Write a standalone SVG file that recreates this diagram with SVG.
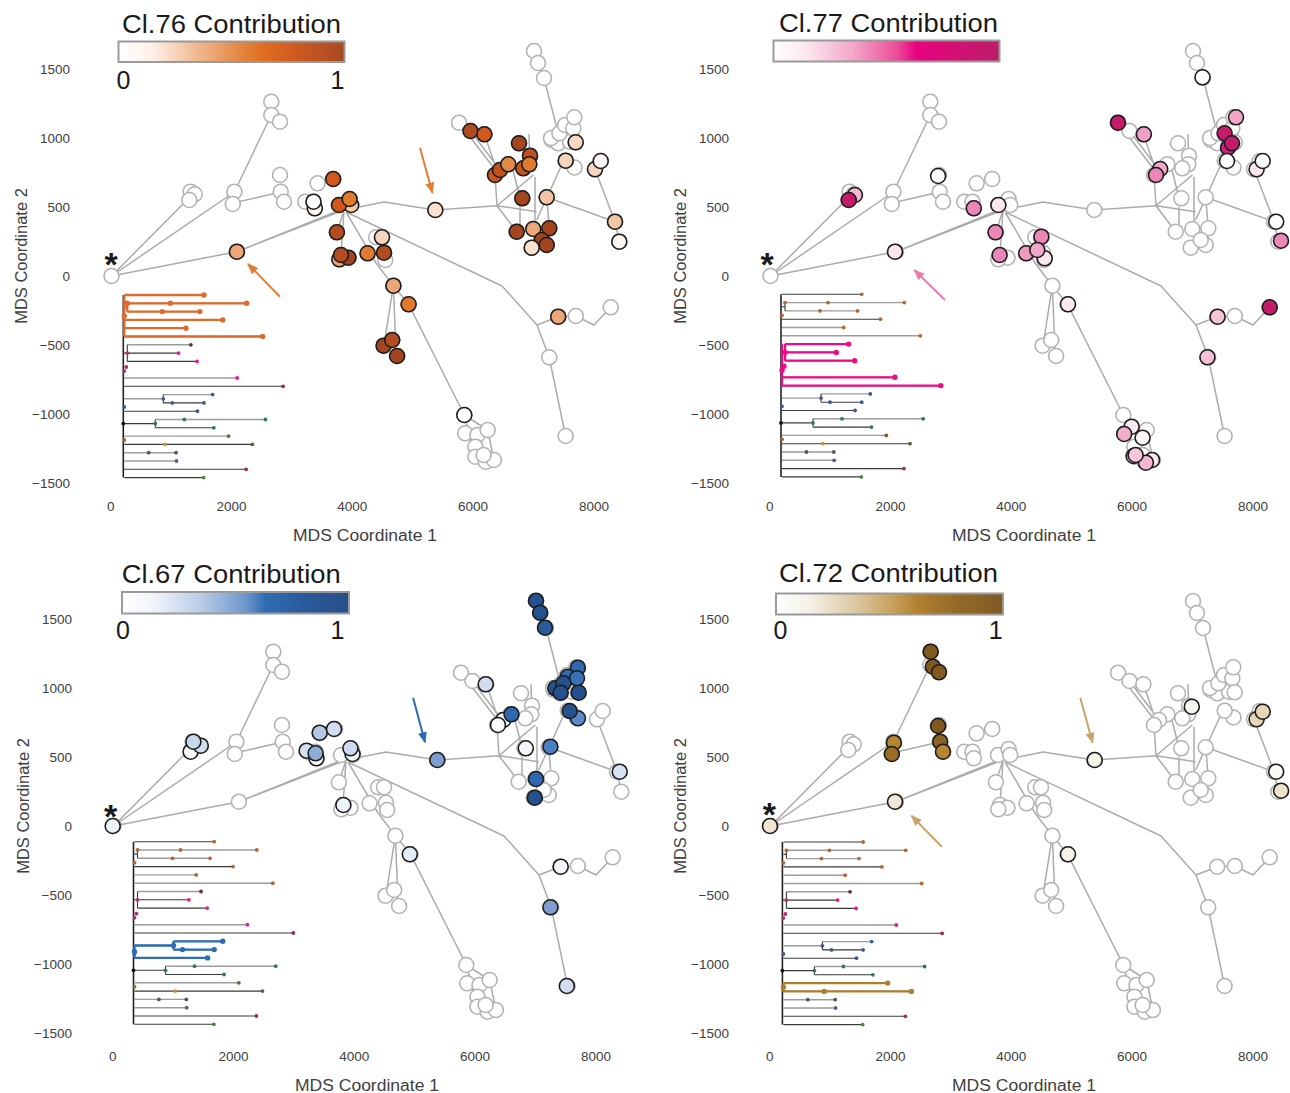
<svg xmlns="http://www.w3.org/2000/svg" xmlns:xlink="http://www.w3.org/1999/xlink" width="1290" height="1093" viewBox="0 0 1290 1093">
<style>
text{font-family:"Liberation Sans",Arial,Helvetica,sans-serif}
.tk{font-size:13.5px;fill:#404040}
.ax{font-size:16px;fill:#404040}
.ttl{font-size:25px;fill:#1a1a1a}
.lim{font-size:25px;fill:#1a1a1a;text-anchor:middle}
.star{font-size:34px;font-weight:bold;fill:#1a1a1a;text-anchor:middle}
.e{fill:none;stroke:#ababab;stroke-width:1.5;stroke-linejoin:round}
.n{fill:#fff;stroke:#b3b3b3;stroke-width:1.6}
.c circle{stroke:#1c1c1c;stroke-width:1.6}
.bar{stroke:#9a9a9a;stroke-width:2}
.td{fill:none;stroke:#3a3a3a;stroke-width:1.1}
.tg{fill:none;stroke:#9c9c9c;stroke-width:1.4}
.hl{fill:none;stroke-width:2.3}
.arr{fill:none;stroke-width:2}
</style>
<defs>
<linearGradient id="g76" x1="0" x2="1" y1="0" y2="0"><stop offset="0" stop-color="#ffffff"/><stop offset="0.15" stop-color="#fdf0e8"/><stop offset="0.35" stop-color="#f0b88e"/><stop offset="0.55" stop-color="#e2843e"/><stop offset="0.63" stop-color="#e07020"/><stop offset="0.78" stop-color="#cf5a22"/><stop offset="1" stop-color="#a64a22"/></linearGradient>
<linearGradient id="g77" x1="0" x2="1" y1="0" y2="0"><stop offset="0" stop-color="#ffffff"/><stop offset="0.15" stop-color="#fbe6ef"/><stop offset="0.35" stop-color="#f2a8c8"/><stop offset="0.55" stop-color="#ec4c98"/><stop offset="0.63" stop-color="#e8037f"/><stop offset="0.8" stop-color="#d40f74"/><stop offset="1" stop-color="#bb1d68"/></linearGradient>
<linearGradient id="g67" x1="0" x2="1" y1="0" y2="0"><stop offset="0" stop-color="#ffffff"/><stop offset="0.15" stop-color="#eef2f9"/><stop offset="0.35" stop-color="#b8cbe6"/><stop offset="0.55" stop-color="#6b95cc"/><stop offset="0.63" stop-color="#2f6db3"/><stop offset="0.8" stop-color="#2a5a9c"/><stop offset="1" stop-color="#274f88"/></linearGradient>
<linearGradient id="g72" x1="0" x2="1" y1="0" y2="0"><stop offset="0" stop-color="#ffffff"/><stop offset="0.15" stop-color="#f5f0e6"/><stop offset="0.35" stop-color="#dcc9a2"/><stop offset="0.55" stop-color="#c1974c"/><stop offset="0.63" stop-color="#b07f2e"/><stop offset="0.8" stop-color="#946a28"/><stop offset="1" stop-color="#7d5a24"/></linearGradient>
<marker id="mo" markerUnits="userSpaceOnUse" markerWidth="11" markerHeight="9" refX="10" refY="4.5" orient="auto"><path d="M0,0 L11,4.5 L0,9 z" fill="#e27b35"/></marker>
<marker id="mp" markerUnits="userSpaceOnUse" markerWidth="11" markerHeight="9" refX="10" refY="4.5" orient="auto"><path d="M0,0 L11,4.5 L0,9 z" fill="#f07aad"/></marker>
<marker id="mb" markerUnits="userSpaceOnUse" markerWidth="11" markerHeight="9" refX="10" refY="4.5" orient="auto"><path d="M0,0 L11,4.5 L0,9 z" fill="#2b6cb5"/></marker>
<marker id="mt" markerUnits="userSpaceOnUse" markerWidth="11" markerHeight="9" refX="10" refY="4.5" orient="auto"><path d="M0,0 L11,4.5 L0,9 z" fill="#c9a46b"/></marker>

<g id="edges">
<path class="e" d="M111.5,276 L190,197 M111.5,276 L234.4,192 L271.3,115 M233,203 L280.7,192 M111.5,276 L236.9,251.7 L337,212 M236.9,251.7 L344,210 M236.9,251.7 L350,206 M344,210 L384,202 L435.3,210 L497,205.7 M344,210 L336.9,232.3 M344,210 L341,255 M346,212 L376,263 L393.4,285.7 M346,212 L502,286 L537,325 L549.2,357.3 L565.6,436 M537,325 L558.2,316.7 L575.8,316 L594,325 L610.7,307.3 M393.4,285.7 L384,345 M393.4,285.7 L396,352 M393.4,285.7 L408.6,304.3 L464.3,415 M464.3,415 L475.4,456.7 L485.7,461.7 M464.3,415 L487.7,430 L493.9,460 M497,205.7 L495,175 M459,122.7 L497,172 M470.5,131 L500,170 M484.4,134.3 L495,165 M497,205.7 L533.3,175 M497,205.7 L536.7,211.7 M497,205.7 L516.7,231.7 M529,134.3 L530,172 M513,170 L520,198 M535,176.7 L535,228 M520,206.7 L520,228 M536.7,220 L561.7,165 M546.7,197.3 L615,221.7 L595,169.3 M534,51 L538,63 L544,78 L557.4,130 M549.3,228.3 L546.7,197.3 M615,221.7 L619.3,241.7"/>
</g>

<g id="basenodes">
<circle class="n" cx="111.5" cy="276" r="7.5"/>
<circle class="n" cx="190.6" cy="191.7" r="7.5"/><circle class="n" cx="194.7" cy="194.3" r="7.5"/><circle class="n" cx="189.3" cy="200" r="7.5"/>
<circle class="n" cx="234.4" cy="191.7" r="7.5"/><circle class="n" cx="232.8" cy="204" r="7.5"/>
<circle class="n" cx="271.3" cy="101.7" r="7.5"/><circle class="n" cx="271.3" cy="115" r="7.5"/><circle class="n" cx="280" cy="121.7" r="7.5"/>
<circle class="n" cx="280" cy="175" r="7.5"/><circle class="n" cx="280.7" cy="191.7" r="7.5"/><circle class="n" cx="284" cy="201.7" r="7.5"/>
<circle class="n" cx="236.9" cy="251.7" r="7.5"/>
<circle class="n" cx="305.3" cy="201.7" r="7.5"/><circle class="n" cx="313.5" cy="201.7" r="7.5"/><circle class="n" cx="314.8" cy="208.3" r="7.5"/><circle class="n" cx="317.6" cy="183.3" r="7.5"/><circle class="n" cx="333.2" cy="179" r="7.5"/>
<circle class="n" cx="339" cy="205" r="7.5"/><circle class="n" cx="349.6" cy="199" r="7.5"/><circle class="n" cx="351.2" cy="205" r="7.5"/>
<circle class="n" cx="336.9" cy="232.3" r="7.5"/>
<circle class="n" cx="341" cy="255" r="7.5"/><circle class="n" cx="348.4" cy="257.7" r="7.5"/><circle class="n" cx="339.3" cy="259.3" r="7.5"/>
<circle class="n" cx="367.6" cy="253.3" r="7.5"/><circle class="n" cx="384" cy="252.7" r="7.5"/><circle class="n" cx="376.2" cy="237.3" r="7.5"/><circle class="n" cx="382" cy="237.3" r="7.5"/><circle class="n" cx="385.2" cy="260" r="7.5"/>
<circle class="n" cx="393.4" cy="285.7" r="7.5"/><circle class="n" cx="408.6" cy="304.3" r="7.5"/>
<circle class="n" cx="383.6" cy="345.7" r="7.5"/><circle class="n" cx="392.2" cy="340" r="7.5"/><circle class="n" cx="397.1" cy="356" r="7.5"/>
<circle class="n" cx="435.3" cy="210" r="7.5"/>
<circle class="n" cx="464.3" cy="415" r="7.5"/><circle class="n" cx="465.2" cy="433.3" r="7.5"/><circle class="n" cx="477.5" cy="435" r="7.5"/><circle class="n" cx="487.7" cy="430" r="7.5"/><circle class="n" cx="475.4" cy="446.7" r="7.5"/><circle class="n" cx="475.4" cy="456.7" r="7.5"/><circle class="n" cx="485.7" cy="461.7" r="7.5"/><circle class="n" cx="493.9" cy="460" r="7.5"/><circle class="n" cx="483.6" cy="455" r="7.5"/>
<circle class="n" cx="459" cy="122.7" r="7.5"/><circle class="n" cx="470.5" cy="131" r="7.5"/><circle class="n" cx="484.4" cy="134.3" r="7.5"/>
<circle class="n" cx="519" cy="143.3" r="7.5"/><circle class="n" cx="530" cy="155.7" r="7.5"/><circle class="n" cx="529.3" cy="164.3" r="7.5"/><circle class="n" cx="523.3" cy="168.3" r="7.5"/>
<circle class="n" cx="508.3" cy="164.3" r="7.5"/><circle class="n" cx="500" cy="170" r="7.5"/><circle class="n" cx="495" cy="175" r="7.5"/>
<circle class="n" cx="522.3" cy="198.3" r="7.5"/><circle class="n" cx="546.7" cy="197.3" r="7.5"/>
<circle class="n" cx="516.7" cy="231.7" r="7.5"/><circle class="n" cx="533.3" cy="229" r="7.5"/><circle class="n" cx="549.3" cy="228.3" r="7.5"/><circle class="n" cx="531.7" cy="247.7" r="7.5"/><circle class="n" cx="546.7" cy="245" r="7.5"/><circle class="n" cx="541.7" cy="240" r="7.5"/>
<circle class="n" cx="534" cy="51" r="7.5"/><circle class="n" cx="538" cy="63" r="7.5"/><circle class="n" cx="544" cy="78" r="7.5"/>
<circle class="n" cx="551.7" cy="140" r="7.5"/><circle class="n" cx="558.3" cy="143.3" r="7.5"/><circle class="n" cx="570" cy="141.7" r="7.5"/><circle class="n" cx="551" cy="138" r="7.5"/><circle class="n" cx="559.4" cy="133.3" r="7.5"/><circle class="n" cx="565" cy="125" r="7.5"/><circle class="n" cx="573.3" cy="128.3" r="7.5"/><circle class="n" cx="574.3" cy="117.3" r="7.5"/><circle class="n" cx="574.5" cy="167.5" r="7.5"/><circle class="n" cx="565.7" cy="160.7" r="7.5"/><circle class="n" cx="575.7" cy="142.3" r="7.5"/>
<circle class="n" cx="595" cy="169.3" r="7.5"/><circle class="n" cx="600.7" cy="161" r="7.5"/>
<circle class="n" cx="615" cy="221.7" r="7.5"/><circle class="n" cx="619.3" cy="241.7" r="7.5"/>
<circle class="n" cx="558.2" cy="316.7" r="7.5"/><circle class="n" cx="575.8" cy="316" r="7.5"/><circle class="n" cx="610.7" cy="307.3" r="7.5"/><circle class="n" cx="549.2" cy="357.3" r="7.5"/><circle class="n" cx="565.6" cy="436" r="7.5"/>
</g>

<g id="axes">
<g class="tk" text-anchor="end">
<text x="70" y="74.3">1500</text><text x="70" y="143.2">1000</text><text x="70" y="212.2">500</text><text x="70" y="281.1">0</text><text x="70" y="350">−500</text><text x="70" y="419">−1000</text><text x="70" y="487.9">−1500</text>
</g>
<g class="tk" text-anchor="middle">
<text x="110.7" y="511">0</text><text x="231.5" y="511">2000</text><text x="352.3" y="511">4000</text><text x="473.1" y="511">6000</text><text x="593.9" y="511">8000</text>
</g>
<text class="ax" x="365" y="540.5" text-anchor="middle" textLength="144" lengthAdjust="spacingAndGlyphs">MDS Coordinate 1</text>
<text class="ax" transform="translate(26.5,256) rotate(-90)" text-anchor="middle" style="font-size:16.5px">MDS Coordinate 2</text>
</g>

<g id="tree">
<path class="td" d="M0,0V182.6" style="stroke:#222;stroke-width:1.6"/>
<path class="tg" d="M4,8.3H123.3 M4,16.6H76.6 M1,33.2H62.7 M1,41.5H139.3 M4,49.8H67.6 M1,83H113.9 M40,99.6H89.3 M1,103.8H40 M32,124.5H142.2 M1,141.1H105.3 M1,157.7H52.8 M1,166H53.2 M1,72H3"/>
<path class="td" d="M1,0H80.7 M1,24.9H99.5 M4,58.1H55.3 M4,66.4H73.7 M1,91.3H159.8 M40,107.9H80.7 M1,116.2H74.1 M0,128.6H32 M32,132.8H90.5 M1,149.4H129 M1,174.3H122.9 M1,182.6H80.3 M4,49.8V66.4 M0,58.1H4 M40,99.6V107.9 M32,124.5V132.8 M4,8.3V16.6 M1,12.4H4"/>
<g>
<circle cx="80.7" cy="0" r="1.9" fill="#b8642e"/><circle cx="123.3" cy="8.3" r="1.9" fill="#b8642e"/><circle cx="47" cy="8.3" r="1.9" fill="#b8642e"/><circle cx="4" cy="8.3" r="1.9" fill="#b8642e"/><circle cx="76.6" cy="16.6" r="1.9" fill="#b8642e"/><circle cx="39" cy="16.6" r="1.9" fill="#b8642e"/><circle cx="99.5" cy="24.9" r="1.9" fill="#b8642e"/><circle cx="62.7" cy="33.2" r="1.9" fill="#b8642e"/><circle cx="139.3" cy="41.5" r="1.9" fill="#b8642e"/><circle cx="1" cy="21" r="1.9" fill="#b8642e"/>
<circle cx="67.6" cy="49.8" r="1.9" fill="#6a2a4a"/><circle cx="4" cy="58.1" r="1.9" fill="#b0306a"/><circle cx="55.3" cy="58.1" r="1.9" fill="#f0148c"/><circle cx="73.7" cy="66.4" r="1.9" fill="#f0148c"/><circle cx="3" cy="72" r="1.9" fill="#b0306a"/><circle cx="1" cy="76" r="1.9" fill="#b0306a"/><circle cx="113.9" cy="83" r="1.9" fill="#f0148c"/><circle cx="159.8" cy="91.3" r="1.9" fill="#a02060"/>
<circle cx="89.3" cy="99.6" r="1.9" fill="#3c5c8c"/><circle cx="80.7" cy="107.9" r="1.9" fill="#3c5c8c"/><circle cx="49" cy="107.9" r="1.9" fill="#3c5c8c"/><circle cx="40" cy="103.8" r="1.9" fill="#3c5c8c"/><circle cx="1" cy="112" r="1.9" fill="#3c5c8c"/><circle cx="74.1" cy="116.2" r="1.9" fill="#3c5c8c"/>
<circle cx="142.2" cy="124.5" r="1.9" fill="#2d7a5c"/><circle cx="61" cy="124.5" r="1.9" fill="#2d7a5c"/><circle cx="32" cy="128.6" r="1.9" fill="#2d7a5c"/><circle cx="0" cy="128.6" r="1.9" fill="#111"/><circle cx="90.5" cy="132.8" r="1.9" fill="#2d7a5c"/>
<circle cx="105.3" cy="141.1" r="1.9" fill="#7a5c34"/><circle cx="1" cy="145" r="1.9" fill="#8a6a3a"/><circle cx="129" cy="149.4" r="1.9" fill="#6b5a3a"/><circle cx="41.8" cy="149.4" r="1.9" fill="#c8922c"/>
<circle cx="52.8" cy="157.7" r="1.9" fill="#555"/><circle cx="25.4" cy="157.7" r="1.9" fill="#555"/><circle cx="53.2" cy="166" r="1.9" fill="#5a5a8c"/><circle cx="122.9" cy="174.3" r="1.9" fill="#a02a60"/><circle cx="80.3" cy="182.6" r="1.9" fill="#4a8a3a"/>
</g>
</g>
</defs>

<rect width="1290" height="1093" fill="#ffffff"/>

<!-- Panel Cl.76 -->
<g id="panel-cl76">
<g id="cl76-legend">
<text class="ttl" x="122" y="33.3" textLength="219" lengthAdjust="spacingAndGlyphs">Cl.76 Contribution</text>
<rect class="bar" x="118.5" y="41.5" width="226" height="20.5" fill="url(#g76)"/>
<text class="lim" x="123.5" y="89.3">0</text><text class="lim" x="337.5" y="89.3">1</text>
</g>
<use href="#axes"/>
<g id="cl76-graph">
<g id="cl76-connectors"><use href="#edges"/></g>
<use href="#basenodes"/>
<g id="cl76-nodes" class="c">
<circle cx="314.8" cy="208.3" r="7.5" fill="#fdf6f1"/><circle cx="313.5" cy="201.7" r="7.5" fill="#ffffff"/>
<circle cx="333.2" cy="179" r="7.5" fill="#d2581e"/>
<circle cx="351.2" cy="205" r="7.5" fill="#f5cba9"/><circle cx="339" cy="205" r="7.5" fill="#d2581e"/><circle cx="349.6" cy="199" r="7.5" fill="#e07a2e"/>
<circle cx="336.9" cy="232.3" r="7.5" fill="#b24c22"/>
<circle cx="339.3" cy="259.3" r="7.5" fill="#eda678"/><circle cx="348.4" cy="257.7" r="7.5" fill="#a5451f"/><circle cx="341" cy="255" r="7.5" fill="#b24c22"/>
<circle cx="382" cy="237.3" r="7.5" fill="#f5d5bd"/><circle cx="367.6" cy="253.3" r="7.5" fill="#e07a2e"/><circle cx="384" cy="252.7" r="7.5" fill="#b24c22"/>
<circle cx="393.4" cy="285.7" r="7.5" fill="#eda678"/>
<circle cx="408.6" cy="304.3" r="7.5" fill="#e07a2e"/>
<circle cx="383.6" cy="345.7" r="7.5" fill="#a5451f"/><circle cx="397.1" cy="356" r="7.5" fill="#a5451f"/><circle cx="392.2" cy="340" r="7.5" fill="#b24c22"/>
<circle cx="236.9" cy="251.7" r="7.5" fill="#eda678"/>
<circle cx="435.3" cy="210" r="7.5" fill="#fbe0cf"/>
<circle cx="464.3" cy="415" r="7.5" fill="#ffffff"/>
<circle cx="470.5" cy="131" r="7.5" fill="#b24c22"/><circle cx="484.4" cy="134.3" r="7.5" fill="#d2581e"/>
<circle cx="519" cy="143.3" r="7.5" fill="#a5451f"/><circle cx="530" cy="155.7" r="7.5" fill="#c0501e"/><circle cx="523.3" cy="168.3" r="7.5" fill="#c8541e"/><circle cx="529.3" cy="164.3" r="7.5" fill="#e07a2e"/>
<circle cx="495" cy="175" r="7.5" fill="#c8541e"/><circle cx="500" cy="170" r="7.5" fill="#c0501e"/><circle cx="508.3" cy="164.3" r="7.5" fill="#e08a45"/>
<circle cx="522.3" cy="198.3" r="7.5" fill="#a5451f"/><circle cx="546.7" cy="197.3" r="7.5" fill="#f2c6a4"/>
<circle cx="516.7" cy="231.7" r="7.5" fill="#a5451f"/><circle cx="549.3" cy="228.3" r="7.5" fill="#a5451f"/><circle cx="533.3" cy="229" r="7.5" fill="#eaa77a"/><circle cx="541.7" cy="240" r="7.5" fill="#a5451f"/><circle cx="546.7" cy="245" r="7.5" fill="#a5451f"/><circle cx="531.7" cy="247.7" r="7.5" fill="#f9e0d0"/>
<circle cx="575.7" cy="142.3" r="7.5" fill="#f6d8c4"/><circle cx="565.7" cy="160.7" r="7.5" fill="#f4d4bd"/>
<circle cx="595" cy="169.3" r="7.5" fill="#f6d6c0"/><circle cx="600.7" cy="161" r="7.5" fill="#fdf8f5"/>
<circle cx="615" cy="221.7" r="7.5" fill="#f2c6a4"/><circle cx="619.3" cy="241.7" r="7.5" fill="#fdf6f2"/>
<circle cx="558.2" cy="316.7" r="7.5" fill="#eda678"/>
</g>
</g>
<text class="star" x="111" y="275.5">*</text>
<g id="cl76-tree" transform="translate(123.3,295)">
<use href="#tree"/>
<g stroke="#e06a2a" fill="#e06a2a">
<path class="hl" d="M1,0V41.5 M1,0H80.7 M4,8.3H123.3 M4,8.3V16.6 M4,16.6H76.6 M1,24.9H99.5 M1,33.2H62.7 M1,41.5H139.3 M1,12.4H4"/>
<g stroke="none"><circle cx="80.7" cy="0" r="2.7"/><circle cx="4" cy="8.3" r="2.7"/><circle cx="47" cy="8.3" r="2.7"/><circle cx="123.3" cy="8.3" r="2.7"/><circle cx="39" cy="16.6" r="2.7"/><circle cx="76.6" cy="16.6" r="2.7"/><circle cx="99.5" cy="24.9" r="2.7"/><circle cx="62.7" cy="33.2" r="2.7"/><circle cx="139.3" cy="41.5" r="2.7"/><circle cx="1" cy="21" r="2.7"/></g>
</g>
</g>
<g id="cl76-arrows">
<path class="arr" stroke="#e27b35" marker-end="url(#mo)" d="M420,147.7 L432.4,192.7"/>
<path class="arr" stroke="#e27b35" marker-end="url(#mo)" d="M280,296.7 L248,264"/>
</g>
</g>

<!-- Panel Cl.77 -->
<g id="panel-cl77">
<g id="cl77-legend">
<text class="ttl" x="779" y="31.7" textLength="219" lengthAdjust="spacingAndGlyphs">Cl.77 Contribution</text>
<rect class="bar" x="773.5" y="40.5" width="226" height="21" fill="url(#g77)"/>
</g>
<use href="#axes" transform="translate(659,0)"/>
<g id="cl77-graph" transform="translate(659,0)">
<g id="cl77-connectors"><use href="#edges"/></g>
<use href="#basenodes"/>
<g id="cl77-nodes" class="c">
<circle cx="195.9" cy="195" r="7.5" fill="#f5b8d0"/><circle cx="189.8" cy="200" r="7.5" fill="#c41b6b"/>
<circle cx="279.1" cy="176" r="7.5" fill="#ffffff"/>
<circle cx="236" cy="251.7" r="7.5" fill="#fbe4ee"/>
<circle cx="314.8" cy="208.3" r="7.5" fill="#eb86b6"/>
<circle cx="339.4" cy="205" r="7.5" fill="#fce6ef"/>
<circle cx="336.5" cy="232.3" r="7.5" fill="#eb86b6"/>
<circle cx="340.6" cy="255" r="7.5" fill="#eb86b6"/>
<circle cx="382.4" cy="236.7" r="7.5" fill="#eb86b6"/>
<circle cx="385.7" cy="258.3" r="7.5" fill="#fae8f0"/><circle cx="367.2" cy="253.3" r="7.5" fill="#f09ac0"/><circle cx="378.3" cy="250" r="7.5" fill="#f2a8c8"/>
<circle cx="409" cy="304.3" r="7.5" fill="#fbe8f0"/>
<circle cx="459" cy="122.7" r="7.5" fill="#c41b6b"/><circle cx="484.9" cy="134.3" r="7.5" fill="#f0a0c4"/>
<circle cx="501.2" cy="169" r="7.5" fill="#f0a8c8"/><circle cx="497" cy="175" r="7.5" fill="#eb86b6"/>
<circle cx="543.5" cy="77.3" r="7.5" fill="#ffffff"/>
<circle cx="577" cy="117.3" r="7.5" fill="#f2a6c8"/>
<circle cx="565.6" cy="133.3" r="7.5" fill="#c41b6b"/><circle cx="569" cy="147.7" r="7.5" fill="#d0207a"/><circle cx="573" cy="143.3" r="7.5" fill="#c41b6b"/>
<circle cx="568" cy="161" r="7.5" fill="#ffffff"/>
<circle cx="597.6" cy="169.3" r="7.5" fill="#fce6ef"/><circle cx="603.7" cy="161" r="7.5" fill="#ffffff"/>
<circle cx="617.2" cy="221.7" r="7.5" fill="#ffffff"/><circle cx="622" cy="240.7" r="7.5" fill="#eb86b6"/>
<circle cx="558.6" cy="316.7" r="7.5" fill="#f6c4d8"/><circle cx="548.4" cy="357.3" r="7.5" fill="#f5c0d6"/><circle cx="610.7" cy="307.3" r="7.5" fill="#c41b6b"/>
<circle cx="472.6" cy="426.7" r="7.5" fill="#fbeaf1"/><circle cx="465.2" cy="434" r="7.5" fill="#f0b0cc"/><circle cx="483.6" cy="437.7" r="7.5" fill="#fbf4f7"/><circle cx="493" cy="460" r="7.5" fill="#fbeaf1"/><circle cx="486.9" cy="462.7" r="7.5" fill="#f2b6d0"/><circle cx="474.6" cy="456" r="7.5" fill="#f2bcd2"/><circle cx="476.6" cy="455" r="7.5" fill="#f5c6da"/>
</g>
</g>
<text class="star" x="767" y="275.5">*</text>
<g id="cl77-tree" transform="translate(781,294.3)">
<use href="#tree"/>
<g stroke="#ee0a84" fill="#ee0a84">
<path class="hl" d="M1,49.8V91.3 M4,49.8V66.4 M1,58.1H4 M4,49.8H67.6 M4,58.1H55.3 M4,66.4H73.7 M1,83H113.9 M1,91.3H159.8 M1,72H3"/>
<g stroke="none"><circle cx="67.6" cy="49.8" r="2.7"/><circle cx="4" cy="58.1" r="2.7"/><circle cx="55.3" cy="58.1" r="2.7"/><circle cx="73.7" cy="66.4" r="2.7"/><circle cx="3" cy="72" r="2.7"/><circle cx="1" cy="76" r="2.7"/><circle cx="113.9" cy="83" r="2.7"/><circle cx="159.8" cy="91.3" r="2.7"/></g>
</g>
</g>
<g id="cl77-arrows">
<path class="arr" stroke="#f07aad" marker-end="url(#mp)" d="M945,300 L914.3,270"/>
</g>
</g>

<!-- Panel Cl.67 -->
<g id="panel-cl67">
<g id="cl67-legend">
<text class="ttl" x="121.7" y="583.3" textLength="219" lengthAdjust="spacingAndGlyphs">Cl.67 Contribution</text>
<rect class="bar" x="122" y="592" width="227" height="21.5" fill="url(#g67)"/>
<text class="lim" x="123" y="639.3">0</text><text class="lim" x="337.5" y="639.3">1</text>
</g>
<use href="#axes" transform="translate(2,550)"/>
<g id="cl67-graph" transform="translate(2,550)">
<g id="cl67-connectors"><use href="#edges"/></g>
<use href="#basenodes"/>
<g id="cl67-nodes" class="c">
<circle cx="110.7" cy="276" r="7.5" fill="#eef3fa"/>
<circle cx="188.6" cy="201.7" r="7.5" fill="#f8fafd"/><circle cx="198.8" cy="195.7" r="7.5" fill="#d2def0"/><circle cx="191.4" cy="191.7" r="7.5" fill="#c8d8ec"/>
<circle cx="304.6" cy="200.7" r="7.5" fill="#d4e0f0"/><circle cx="317.7" cy="182.7" r="7.5" fill="#b4c8e6"/><circle cx="332" cy="179" r="7.5" fill="#d2def0"/><circle cx="314.4" cy="208.3" r="7.5" fill="#ffffff"/><circle cx="313.6" cy="203.3" r="7.5" fill="#8eaed8"/>
<circle cx="350.5" cy="204" r="7.5" fill="#ffffff"/><circle cx="348.4" cy="198.3" r="7.5" fill="#cddcf0"/>
<circle cx="341.4" cy="255" r="7.5" fill="#eef3fa"/>
<circle cx="435.3" cy="210" r="7.5" fill="#7e9ed0"/>
<circle cx="483.7" cy="134.3" r="7.5" fill="#d2def0"/>
<circle cx="501.3" cy="170" r="7.5" fill="#ffffff"/><circle cx="509.5" cy="164.3" r="7.5" fill="#2f68b0"/><circle cx="496" cy="175" r="7.5" fill="#f8fafd"/>
<circle cx="523.8" cy="198.3" r="7.5" fill="#f4f7fb"/><circle cx="548.4" cy="196.7" r="7.5" fill="#4a7ec2"/>
<circle cx="534" cy="229" r="7.5" fill="#2f68b0"/><circle cx="532.8" cy="247.7" r="7.5" fill="#25518e"/>
<circle cx="534" cy="50.7" r="7.5" fill="#25518e"/><circle cx="538.2" cy="62.7" r="7.5" fill="#25518e"/><circle cx="543" cy="77.7" r="7.5" fill="#2a5a98"/>
<circle cx="575.9" cy="117.7" r="7.5" fill="#2f68b0"/><circle cx="565.7" cy="126.7" r="7.5" fill="#2f68b0"/><circle cx="575" cy="128.3" r="7.5" fill="#3a72b8"/><circle cx="553.3" cy="138.3" r="7.5" fill="#25518e"/><circle cx="561.5" cy="133.3" r="7.5" fill="#25518e"/><circle cx="558.7" cy="142.7" r="7.5" fill="#25518e"/><circle cx="576.7" cy="142.7" r="7.5" fill="#25518e"/>
<circle cx="575.9" cy="168.3" r="7.5" fill="#5a88c8"/><circle cx="567.7" cy="161" r="7.5" fill="#25518e"/>
<circle cx="617.7" cy="221.7" r="7.5" fill="#d8e3f2"/>
<circle cx="407.8" cy="304.3" r="7.5" fill="#e4ecf6"/>
<circle cx="558.7" cy="316.7" r="7.5" fill="#f2f6fb"/><circle cx="548.4" cy="357.3" r="7.5" fill="#7e9ed0"/><circle cx="564.8" cy="436" r="7.5" fill="#d2def0"/>
</g>
</g>
<text class="star" x="110.7" y="827.5">*</text>
<g id="cl67-tree" transform="translate(133.5,841.7)">
<use href="#tree"/>
<g stroke="#2b6cb5" fill="#2b6cb5">
<path class="hl" d="M1,103.8V116.2 M1,103.8H40 M40,99.6V107.9 M40,99.6H89.3 M40,107.9H80.7 M1,116.2H74.1"/>
<g stroke="none"><circle cx="40" cy="103.8" r="2.7"/><circle cx="89.3" cy="99.6" r="2.7"/><circle cx="49" cy="107.9" r="2.7"/><circle cx="80.7" cy="107.9" r="2.7"/><circle cx="74.1" cy="116.2" r="2.7"/><circle cx="1" cy="110" r="2.7"/></g>
</g>
</g>
<g id="cl67-arrows">
<path class="arr" stroke="#2b6cb5" marker-end="url(#mb)" d="M413.1,697.7 L425,742.3"/>
</g>
</g>

<!-- Panel Cl.72 -->
<g id="panel-cl72">
<g id="cl72-legend">
<text class="ttl" x="779" y="581.7" textLength="219" lengthAdjust="spacingAndGlyphs">Cl.72 Contribution</text>
<rect class="bar" x="776" y="593.5" width="227" height="21" fill="url(#g72)"/>
<text class="lim" x="780.5" y="639.3">0</text><text class="lim" x="995.7" y="639.3">1</text>
</g>
<use href="#axes" transform="translate(659,550)"/>
<g id="cl72-graph" transform="translate(659,550)">
<g id="cl72-connectors"><use href="#edges"/></g>
<use href="#basenodes"/>
<g id="cl72-nodes" class="c">
<circle cx="111" cy="276" r="7.5" fill="#efe5d2"/>
<circle cx="234.9" cy="192.7" r="7.5" fill="#b5852f"/><circle cx="232.8" cy="204" r="7.5" fill="#9a6c26"/>
<circle cx="271.7" cy="101.7" r="7.5" fill="#80591f"/><circle cx="273.8" cy="116.7" r="7.5" fill="#80591f"/><circle cx="280" cy="122.3" r="7.5" fill="#80591f"/>
<circle cx="279.1" cy="176" r="7.5" fill="#80591f"/><circle cx="281.2" cy="191.7" r="7.5" fill="#8a6224"/><circle cx="284" cy="201.7" r="7.5" fill="#b5852f"/>
<circle cx="236" cy="251.7" r="7.5" fill="#efe7d8"/>
<circle cx="435.7" cy="210" r="7.5" fill="#f7f4ec"/>
<circle cx="409" cy="304.3" r="7.5" fill="#f5f2e8"/>
<circle cx="532.8" cy="156.7" r="7.5" fill="#f8f6f0"/>
<circle cx="597.6" cy="169.3" r="7.5" fill="#e6d6b8"/><circle cx="603.7" cy="161.7" r="7.5" fill="#e6d6b8"/>
<circle cx="617.2" cy="221.7" r="7.5" fill="#fbfaf6"/><circle cx="622.1" cy="240.7" r="7.5" fill="#ede2cc"/>
</g>
</g>
<text class="star" x="769.3" y="826">*</text>
<g id="cl72-tree" transform="translate(782.4,842)">
<use href="#tree"/>
<g stroke="#b07f2e" fill="#b07f2e">
<path class="hl" d="M1,141.1V149.4 M1,141.1H105.3 M1,149.4H129"/>
<g stroke="none"><circle cx="105.3" cy="141.1" r="2.7"/><circle cx="129" cy="149.4" r="2.7"/><circle cx="41.8" cy="149.4" r="2.7"/><circle cx="1" cy="145" r="2.7"/></g>
</g>
</g>
<g id="cl72-arrows">
<path class="arr" stroke="#c9a46b" marker-end="url(#mt)" d="M1080.3,697.7 L1092.6,742.7"/>
<path class="arr" stroke="#c9a46b" marker-end="url(#mt)" d="M941.8,846.7 L911.5,815.7"/>
</g>
</g>
</svg>
